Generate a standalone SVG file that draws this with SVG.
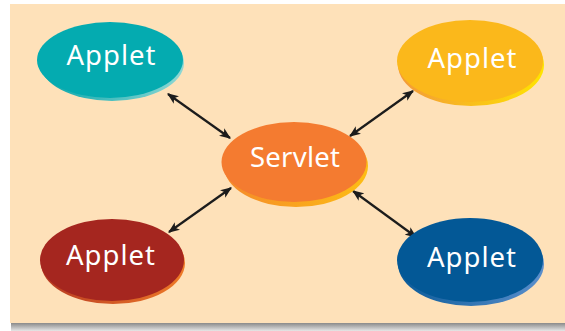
<svg xmlns="http://www.w3.org/2000/svg" width="565" height="331" viewBox="0 0 565 331">
  <defs>
    <style>
      .lbl { font-family: "Noto Sans", "Open Sans", sans-serif; font-size: 27.5px; fill: #ffffff; text-anchor: middle; }
      .conn { stroke: #1c1c1c; stroke-width: 2.2; fill: none; marker-start: url(#ah); marker-end: url(#ah); }
    </style>
    <marker id="ah" viewBox="0 0 10 8" refX="9" refY="4" markerWidth="5.2" markerHeight="4.2" orient="auto-start-reverse" markerUnits="strokeWidth">
      <path d="M0,0 L10,4 L0,8 L2.5,4 Z" fill="#1c1c1c"/>
    </marker>
    <linearGradient id="shadow" x1="0" y1="0" x2="0" y2="1">
      <stop offset="0" stop-color="#8a8a8a"/>
      <stop offset="1" stop-color="#e6e6e6"/>
    </linearGradient>
    <linearGradient id="rimTeal" x1="0" y1="0" x2="1" y2="0">
      <stop offset="0" stop-color="#04a5aa"/>
      <stop offset="1" stop-color="#8fd8d4"/>
    </linearGradient>
    <linearGradient id="rimOrange" x1="0" y1="0" x2="1" y2="0">
      <stop offset="0" stop-color="#f58a2a"/>
      <stop offset="1" stop-color="#fdbd14"/>
    </linearGradient>
    <linearGradient id="rimYellow" x1="0" y1="0" x2="1" y2="0">
      <stop offset="0" stop-color="#f3993a"/>
      <stop offset="1" stop-color="#ffe400"/>
    </linearGradient>
    <linearGradient id="rimRed" x1="0" y1="0" x2="1" y2="0">
      <stop offset="0" stop-color="#b83a22"/>
      <stop offset="1" stop-color="#ee7a28"/>
    </linearGradient>
    <linearGradient id="rimBlue" x1="0" y1="0" x2="1" y2="0">
      <stop offset="0" stop-color="#0a5a98"/>
      <stop offset="1" stop-color="#5b8fcc"/>
    </linearGradient>
  </defs>

  <rect x="0" y="0" width="565" height="331" fill="#ffffff"/>
  <rect x="11" y="323" width="554" height="8" fill="url(#shadow)"/>
  <rect x="10" y="4" width="555" height="319" fill="#fee1b9"/>

  <g id="connectors">
    <line class="conn" x1="168" y1="94" x2="230" y2="138"/>
    <line class="conn" x1="413" y1="91" x2="350" y2="136"/>
    <line class="conn" x1="231" y1="188" x2="169" y2="232"/>
    <line class="conn" x1="353" y1="191" x2="416" y2="237"/>
  </g>

  <g id="applet-tl">
    <ellipse cx="112" cy="63" rx="72" ry="38" fill="url(#rimTeal)"/>
    <ellipse cx="110" cy="60" rx="73" ry="38" fill="#04abb0"/>
    <text class="lbl" x="111" y="65" textLength="89" lengthAdjust="spacing">Applet</text>
  </g>

  <g id="servlet">
    <ellipse cx="296" cy="166" rx="72" ry="41" fill="url(#rimOrange)"/>
    <ellipse cx="294" cy="162" rx="72.5" ry="40" fill="#f47b30"/>
    <text class="lbl" x="295" y="167" textLength="90" lengthAdjust="spacing">Servlet</text>
  </g>

  <g id="applet-tr">
    <ellipse cx="471" cy="65" rx="73" ry="41" fill="url(#rimYellow)"/>
    <ellipse cx="470" cy="61" rx="73" ry="41" fill="#fbb81b"/>
    <text class="lbl" x="472" y="68" textLength="89" lengthAdjust="spacing">Applet</text>
  </g>

  <g id="applet-bl">
    <ellipse cx="113" cy="263" rx="72" ry="41" fill="url(#rimRed)"/>
    <ellipse cx="112" cy="260" rx="72" ry="41" fill="#a5261f"/>
    <text class="lbl" x="110.5" y="265" textLength="89" lengthAdjust="spacing">Applet</text>
  </g>

  <g id="applet-br">
    <ellipse cx="471" cy="264" rx="73" ry="42" fill="url(#rimBlue)"/>
    <ellipse cx="470" cy="260" rx="73" ry="42" fill="#035896"/>
    <text class="lbl" x="471.5" y="267" textLength="89" lengthAdjust="spacing">Applet</text>
  </g>
</svg>
